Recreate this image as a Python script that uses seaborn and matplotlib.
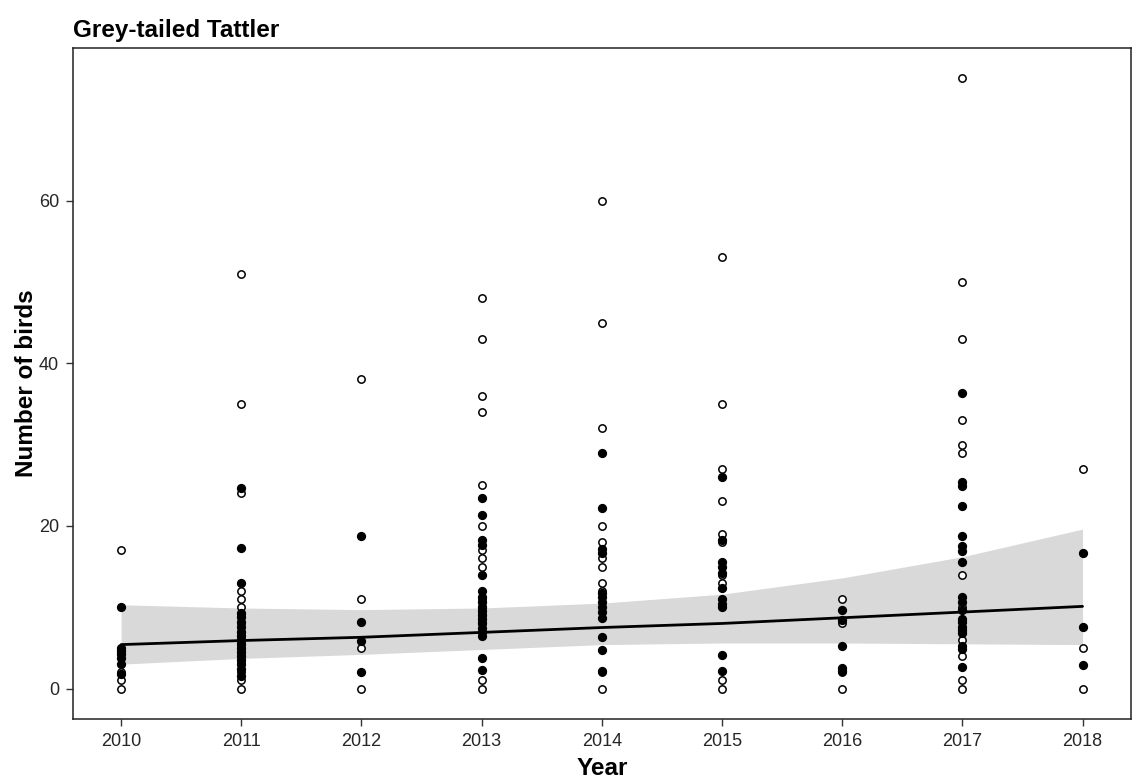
import numpy as np
import pandas as pd
import matplotlib
matplotlib.use("Agg")
import matplotlib.pyplot as plt
import seaborn as sns

# Survey years
years = [2010, 2011, 2012, 2013, 2014, 2015, 2016, 2017, 2018]

# Raw counts per survey (open circles)
observed_by_year = [
    [17, 2, 1, 0],
    [51, 35, 24, 12, 11, 10, 9, 8, 7, 6, 5, 4, 3, 2, 1, 0],
    [38, 11, 5, 0],
    [48, 43, 36, 34, 25, 20, 17, 16, 15, 11, 10, 9, 8, 1, 0],
    [60, 45, 32, 20, 18, 16, 15, 13, 12, 2, 0],
    [53, 35, 27, 23, 19, 18, 14, 13, 1, 0],
    [11, 8, 2, 0],
    [75, 50, 43, 33, 30, 29, 14, 10, 7, 6, 4, 1, 0],
    [27, 5, 0],
]

# Adjusted counts per survey (filled circles)
adjusted_by_year = [
    [10.0, 5.0, 4.6, 4.2, 3.8, 3.0, 1.8],
    [24.6, 17.3, 13.0, 9.3, 8.8, 8.2, 7.6, 7.0, 6.5, 6.0, 5.5, 5.0, 4.5, 4.0,
     3.5, 3.0, 2.4, 1.6],
    [18.8, 8.2, 5.8, 2.0],
    [23.4, 21.3, 18.3, 17.6, 14.0, 12.0, 11.3, 10.6, 10.0, 9.5, 9.0, 8.5, 8.0,
     7.5, 7.0, 6.5, 3.8, 2.3],
    [28.9, 22.2, 17.1, 16.7, 11.8, 11.2, 10.6, 10.0, 9.4, 8.7, 6.3, 4.7, 2.1],
    [26.0, 18.3, 15.6, 15.0, 14.2, 12.4, 11.0, 10.4, 10.0, 4.1, 2.2],
    [9.6, 8.4, 5.2, 2.5, 2.2],
    [36.3, 25.4, 24.9, 22.4, 18.7, 17.5, 16.9, 15.5, 11.2, 10.6, 9.7, 8.6, 8.2,
     7.6, 7.2, 6.8, 5.2, 4.8, 2.7],
    [16.7, 7.6, 2.9],
]

# Fitted trend with its confidence band
trend_fit = [5.4, 5.9, 6.3, 6.9, 7.5, 8.0, 8.7, 9.4, 10.1]
trend_lower = [3.0, 3.7, 4.2, 4.8, 5.4, 5.6, 5.6, 5.5, 5.4]
trend_upper = [10.3, 9.9, 9.7, 9.9, 10.5, 11.6, 13.6, 16.2, 19.6]

title = "Grey-tailed Tattler"
x_label = "Year"
y_label = "Number of birds"
y_ticks = [0, 20, 40, 60]

# Long-form tables
obs_df = pd.DataFrame(
    [(y, v) for y, vals in zip(years, observed_by_year) for v in vals],
    columns=["Year", "Birds"],
)
adj_df = pd.DataFrame(
    [(y, v) for y, vals in zip(years, adjusted_by_year) for v in vals],
    columns=["Year", "Birds"],
)
trend_df = pd.DataFrame({"Year": years, "fit": trend_fit,
                         "lower": trend_lower, "upper": trend_upper})

sns.set_theme(style="ticks")
plt.rcParams["font.family"] = ["Liberation Sans", "DejaVu Sans"]

fig = plt.figure(figsize=(11.34, 7.83), dpi=100)
ax = fig.add_axes([0.0644, 0.0817, 0.9326, 0.857])

# Confidence band and trend line
ax.fill_between(trend_df["Year"], trend_df["lower"], trend_df["upper"],
                color="#d9d9d9", linewidth=0, zorder=1)
sns.lineplot(data=trend_df, x="Year", y="fit", ax=ax, color="black",
             linewidth=2.0, zorder=2)

# Points
sns.scatterplot(data=obs_df, x="Year", y="Birds", ax=ax, s=28,
                facecolor="white", edgecolor="black", linewidth=1.1, zorder=3)
sns.scatterplot(data=adj_df, x="Year", y="Birds", ax=ax, s=32,
                facecolor="black", edgecolor="black", linewidth=1.0, zorder=4)

ax.set_xlim(2009.6, 2018.4)
ax.set_ylim(-3.75, 78.75)
ax.set_xticks(years)
ax.set_xticklabels([str(y) for y in years])
ax.set_yticks(y_ticks)

for side in ["top", "right", "bottom", "left"]:
    ax.spines[side].set_visible(True)
    ax.spines[side].set_color("#222222")
    ax.spines[side].set_linewidth(1.1)

ax.tick_params(axis="both", direction="out", length=5, width=1.0,
               color="#333333", labelsize=13, labelcolor="#262626", pad=5)

ax.set_xlabel(x_label, fontsize=17.5, fontweight="bold", labelpad=5, color="black")
ax.set_ylabel(y_label, fontsize=17.5, fontweight="bold", labelpad=1, color="black")
ax.set_title(title, loc="left", fontsize=17.5, fontweight="bold", pad=8,
             color="black")

fig.savefig("out.png", dpi=100)
